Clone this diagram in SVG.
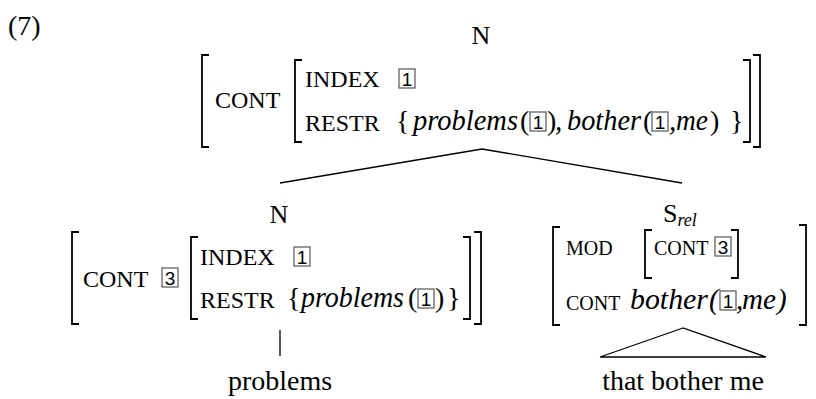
<svg xmlns="http://www.w3.org/2000/svg" width="816" height="399" viewBox="0 0 816 399">
<defs>
<style>
.t{font-family:"Liberation Serif","Times New Roman",serif;font-size:28px;fill:#000}
.f{font-family:"Liberation Serif","Times New Roman",serif;font-size:24px;fill:#000}
.s{font-family:"Liberation Serif","Times New Roman",serif;font-size:20px;fill:#000}
.i{font-family:"Liberation Serif","Times New Roman",serif;font-size:29px;font-style:italic;fill:#000}
.d{font-family:"Liberation Sans",Arial,sans-serif;font-size:19px;fill:#000;text-anchor:middle}
.box{fill:none;stroke:#555;stroke-width:1.2}
.br{fill:none;stroke:#000;stroke-width:1.8}
.ln{fill:none;stroke:#000;stroke-width:1.3}
</style>
</defs>
<rect width="816" height="399" fill="#fff"/>
<text class="t" x="8" y="35">(7)</text>

<g id="node-top">
<text class="t" x="481" y="44" text-anchor="middle" style="font-size:26px">N</text>
<path class="br" d="M209,55 H202 V147 H209"/>
<text class="f" x="215" y="108">CONT</text>
<path class="br" d="M302,60 H295 V142 H302"/>
<text class="f" x="305" y="87">INDEX</text>
<rect class="box" x="399" y="69" width="16" height="19"/><text class="d" x="407" y="86">1</text>
<text class="f" x="305" y="131">RESTR</text>
<text class="t" x="396" y="130">{</text>
<text class="i" x="413" y="130" textLength="105" lengthAdjust="spacingAndGlyphs">problems</text>
<text class="t" x="520" y="130">(</text>
<rect class="box" x="530" y="112" width="16" height="19"/><text class="d" x="538" y="129">1</text>
<text class="t" x="547" y="130">)</text>
<text class="i" x="555" y="130">,</text>
<text class="i" x="567" y="130" textLength="74" lengthAdjust="spacingAndGlyphs">bother</text>
<text class="t" x="643" y="130">(</text>
<rect class="box" x="652" y="112" width="16" height="19"/><text class="d" x="660" y="129">1</text>
<text class="i" x="669" y="130">,</text>
<text class="i" x="676" y="130" textLength="32" lengthAdjust="spacingAndGlyphs">me</text>
<text class="t" x="710" y="130">)</text>
<text class="t" x="730" y="130">}</text>
<path class="br" d="M743,60 H750 V142 H743"/>
<path class="br" d="M753,55 H760 V147 H753"/>
</g>

<g id="node-left">
<text class="t" x="279" y="223" text-anchor="middle" style="font-size:26px">N</text>
<path class="br" d="M79,232 H72 V324 H79"/>
<text class="f" x="83" y="287">CONT</text>
<rect class="box" x="162" y="268" width="16" height="19"/><text class="d" x="170" y="285">3</text>
<path class="br" d="M198,237 H191 V319 H198"/>
<text class="f" x="200" y="265">INDEX</text>
<rect class="box" x="294" y="247" width="16" height="19"/><text class="d" x="302" y="264">1</text>
<text class="f" x="200" y="308">RESTR</text>
<text class="t" x="287" y="307">{</text>
<text class="i" x="301" y="307" textLength="103" lengthAdjust="spacingAndGlyphs">problems</text>
<text class="t" x="408" y="307">(</text>
<rect class="box" x="418" y="289" width="16" height="19"/><text class="d" x="426" y="306">1</text>
<text class="t" x="435" y="307">)</text>
<text class="t" x="447" y="307">}</text>
<path class="br" d="M463,237 H470 V319 H463"/>
<path class="br" d="M474,232 H481 V324 H474"/>
</g>

<g id="node-right">
<text class="t" x="663" y="222" style="font-size:26px">S<tspan class="i" style="font-size:18px" dy="4">rel</tspan></text>
<path class="br" d="M560,227 H553 V325 H560"/>
<text class="s" x="566" y="255">MOD</text>
<path class="br" d="M652,230 H645 V278 H652"/>
<text class="s" x="654" y="255">CONT</text>
<rect class="box" x="715" y="237" width="16" height="19"/><text class="d" x="723" y="254">3</text>
<path class="br" d="M731,230 H738 V278 H731"/>
<text class="s" x="566" y="310">CONT</text>
<text class="i" x="630" y="309" textLength="78" lengthAdjust="spacingAndGlyphs">bother</text>
<text class="i" x="709" y="309">(</text>
<rect class="box" x="720" y="291" width="16" height="19"/><text class="d" x="728" y="308">1</text>
<text class="i" x="736" y="309">,</text>
<text class="i" x="742" y="309" textLength="34" lengthAdjust="spacingAndGlyphs">me</text>
<text class="i" x="777" y="309">)</text>
<path class="br" d="M799,225 H806 V325 H799"/>
</g>

<g id="leaf-problems"><text class="t" x="280" y="390" text-anchor="middle">problems</text></g>
<g id="leaf-that"><text class="t" x="683" y="390" text-anchor="middle">that bother me</text></g>

<g id="connectors">
<polyline class="ln" points="280,183 482,149 682,183"/>
<line class="ln" x1="280" y1="330" x2="280" y2="356"/>
<polygon class="ln" points="683,328 600,357 766,357"/>
</g>
</svg>
